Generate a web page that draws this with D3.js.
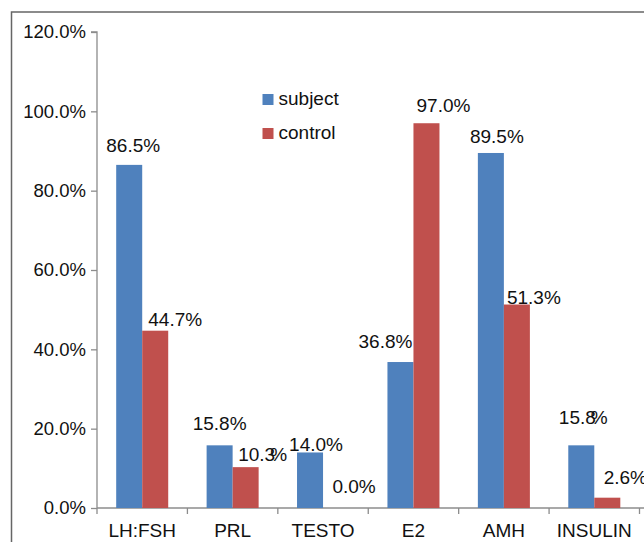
<!DOCTYPE html>
<html>
<head>
<meta charset="utf-8">
<script src="https://cdn.jsdelivr.net/npm/d3@7"></script>
<style>
  html, body { margin: 0; padding: 0; background: #fff; }
  svg { display: block; }
  text { font-family: "Liberation Sans", Arial, sans-serif; fill: #111; }
</style>
</head>
<body>
<svg id="chart" width="644" height="542"></svg>
<script>
// Hormone categories and the share (%) of each group
const categories = ["LH:FSH", "PRL", "TESTO", "E2", "AMH", "INSULIN"];
const seriesNames = ["subject", "control"];
const subjectValues = [86.5, 15.8, 14.0, 36.8, 89.5, 15.8];
const controlValues = [44.7, 10.3, 0.0, 97.0, 51.3, 2.6];
const yTicks = [0, 20, 40, 60, 80, 100, 120];

// Layout: hand-placed label nudges (dx from bar centre, gap above bar top)
const subjectLabelNudge = [[4, 13], [0, 15], [6, 1], [-15, 14], [6, 10], [2, 21]];
const controlLabelNudge = [[20, 5], [17, 6], [18, 15], [17, 11], [17, 1], [18, 14]];
// labels whose "%" sits tight against the last digit
const tightPercent = { subject: [5], control: [1] };

const colors = { subject: "#4f81bd", control: "#c0504d" };
const fontSize = 19;

const svg = d3.select("#chart");

// outer chart frame (runs off the right and bottom edges)
svg.append("rect")
  .attr("x", 11.5).attr("y", 12)
  .attr("width", 700).attr("height", 600)
  .attr("fill", "none")
  .attr("stroke", "#666")
  .attr("stroke-width", 1.5);

const plot = { left: 97, right: 639.5, top: 32, bottom: 508 };

const x0 = d3.scaleBand()
  .domain(categories)
  .range([plot.left, plot.right])
  .paddingInner(0).paddingOuter(0);

const x1 = d3.scaleBand()
  .domain(seriesNames)
  .range([0, x0.bandwidth()])
  .paddingInner(0)
  .paddingOuter(0.738);

const y = d3.scaleLinear()
  .domain([0, 120])
  .range([plot.bottom, plot.top]);

const rows = categories.map((c, i) => ({
  category: c,
  subject: subjectValues[i],
  control: controlValues[i],
  idx: i
}));

// y axis
const yAxis = d3.axisLeft(y)
  .tickValues(yTicks)
  .tickSize(6)
  .tickPadding(5)
  .tickFormat(d => d.toFixed(1) + "%");

const gy = svg.append("g")
  .attr("transform", `translate(${plot.left},0)`)
  .call(yAxis);
gy.select(".domain").attr("stroke", "#8c8c8c").attr("stroke-width", 1.3)
  .attr("d", `M-6,${plot.top}H0V${plot.bottom}`);
gy.selectAll(".tick line").attr("stroke", "#8c8c8c").attr("stroke-width", 1.3);
gy.selectAll(".tick text")
  .style("font-size", "18.5px")
  .style("font-family", "'Liberation Sans', Arial, sans-serif")
  .attr("fill", "#111");

// x axis with ticks on category boundaries
const gx = svg.append("g")
  .attr("transform", `translate(0,${plot.bottom})`);
gx.append("line")
  .attr("x1", plot.left).attr("x2", 650)
  .attr("stroke", "#8c8c8c").attr("stroke-width", 1.3);
const bounds = categories.map(c => x0(c)).concat([x0(categories[categories.length - 1]) + x0.bandwidth()]);
gx.selectAll("line.bound")
  .data(bounds)
  .join("line")
  .attr("class", "bound")
  .attr("x1", d => d).attr("x2", d => d)
  .attr("y1", 0).attr("y2", 6)
  .attr("stroke", "#8c8c8c").attr("stroke-width", 1.3);
gx.selectAll("text.cat")
  .data(categories)
  .join("text")
  .attr("class", "cat")
  .attr("x", d => x0(d) + x0.bandwidth() / 2)
  .attr("y", 29)
  .attr("text-anchor", "middle")
  .style("font-size", fontSize + "px")
  .text(d => d);

// bars
const groups = svg.append("g").selectAll("g")
  .data(rows)
  .join("g")
  .attr("transform", d => `translate(${x0(d.category)},0)`);

groups.selectAll("rect")
  .data(d => seriesNames.map(s => ({ key: s, value: d[s], idx: d.idx })))
  .join("rect")
  .attr("x", d => x1(d.key))
  .attr("y", d => y(d.value))
  .attr("width", x1.bandwidth())
  .attr("height", d => y(0) - y(d.value))
  .attr("fill", d => colors[d.key]);

// value labels
const nudges = { subject: subjectLabelNudge, control: controlLabelNudge };
groups.each(function (d) {
  const g = d3.select(this);
  seriesNames.forEach(s => {
    const v = d[s];
    const [dx, gap] = nudges[s][d.idx];
    const t = g.append("text")
      .attr("x", x1(s) + x1.bandwidth() / 2 + dx)
      .attr("y", y(v) - gap)
      .attr("text-anchor", "middle")
      .style("font-size", fontSize + "px");
    if (tightPercent[s].includes(d.idx)) {
      t.append("tspan").text(v.toFixed(1));
      t.append("tspan").attr("dx", -5).text("%");
    } else {
      t.text(v.toFixed(1) + "%");
    }
  });
});

// legend
const legend = svg.append("g").attr("transform", "translate(262.5,94)");
seriesNames.forEach((s, i) => {
  const row = legend.append("g").attr("transform", `translate(0,${i * 34})`);
  row.append("rect")
    .attr("width", 11).attr("height", 11)
    .attr("fill", colors[s]);
  row.append("text")
    .attr("x", 16).attr("y", 11)
    .style("font-size", fontSize + "px")
    .text(s);
});
</script>
</body>
</html>
